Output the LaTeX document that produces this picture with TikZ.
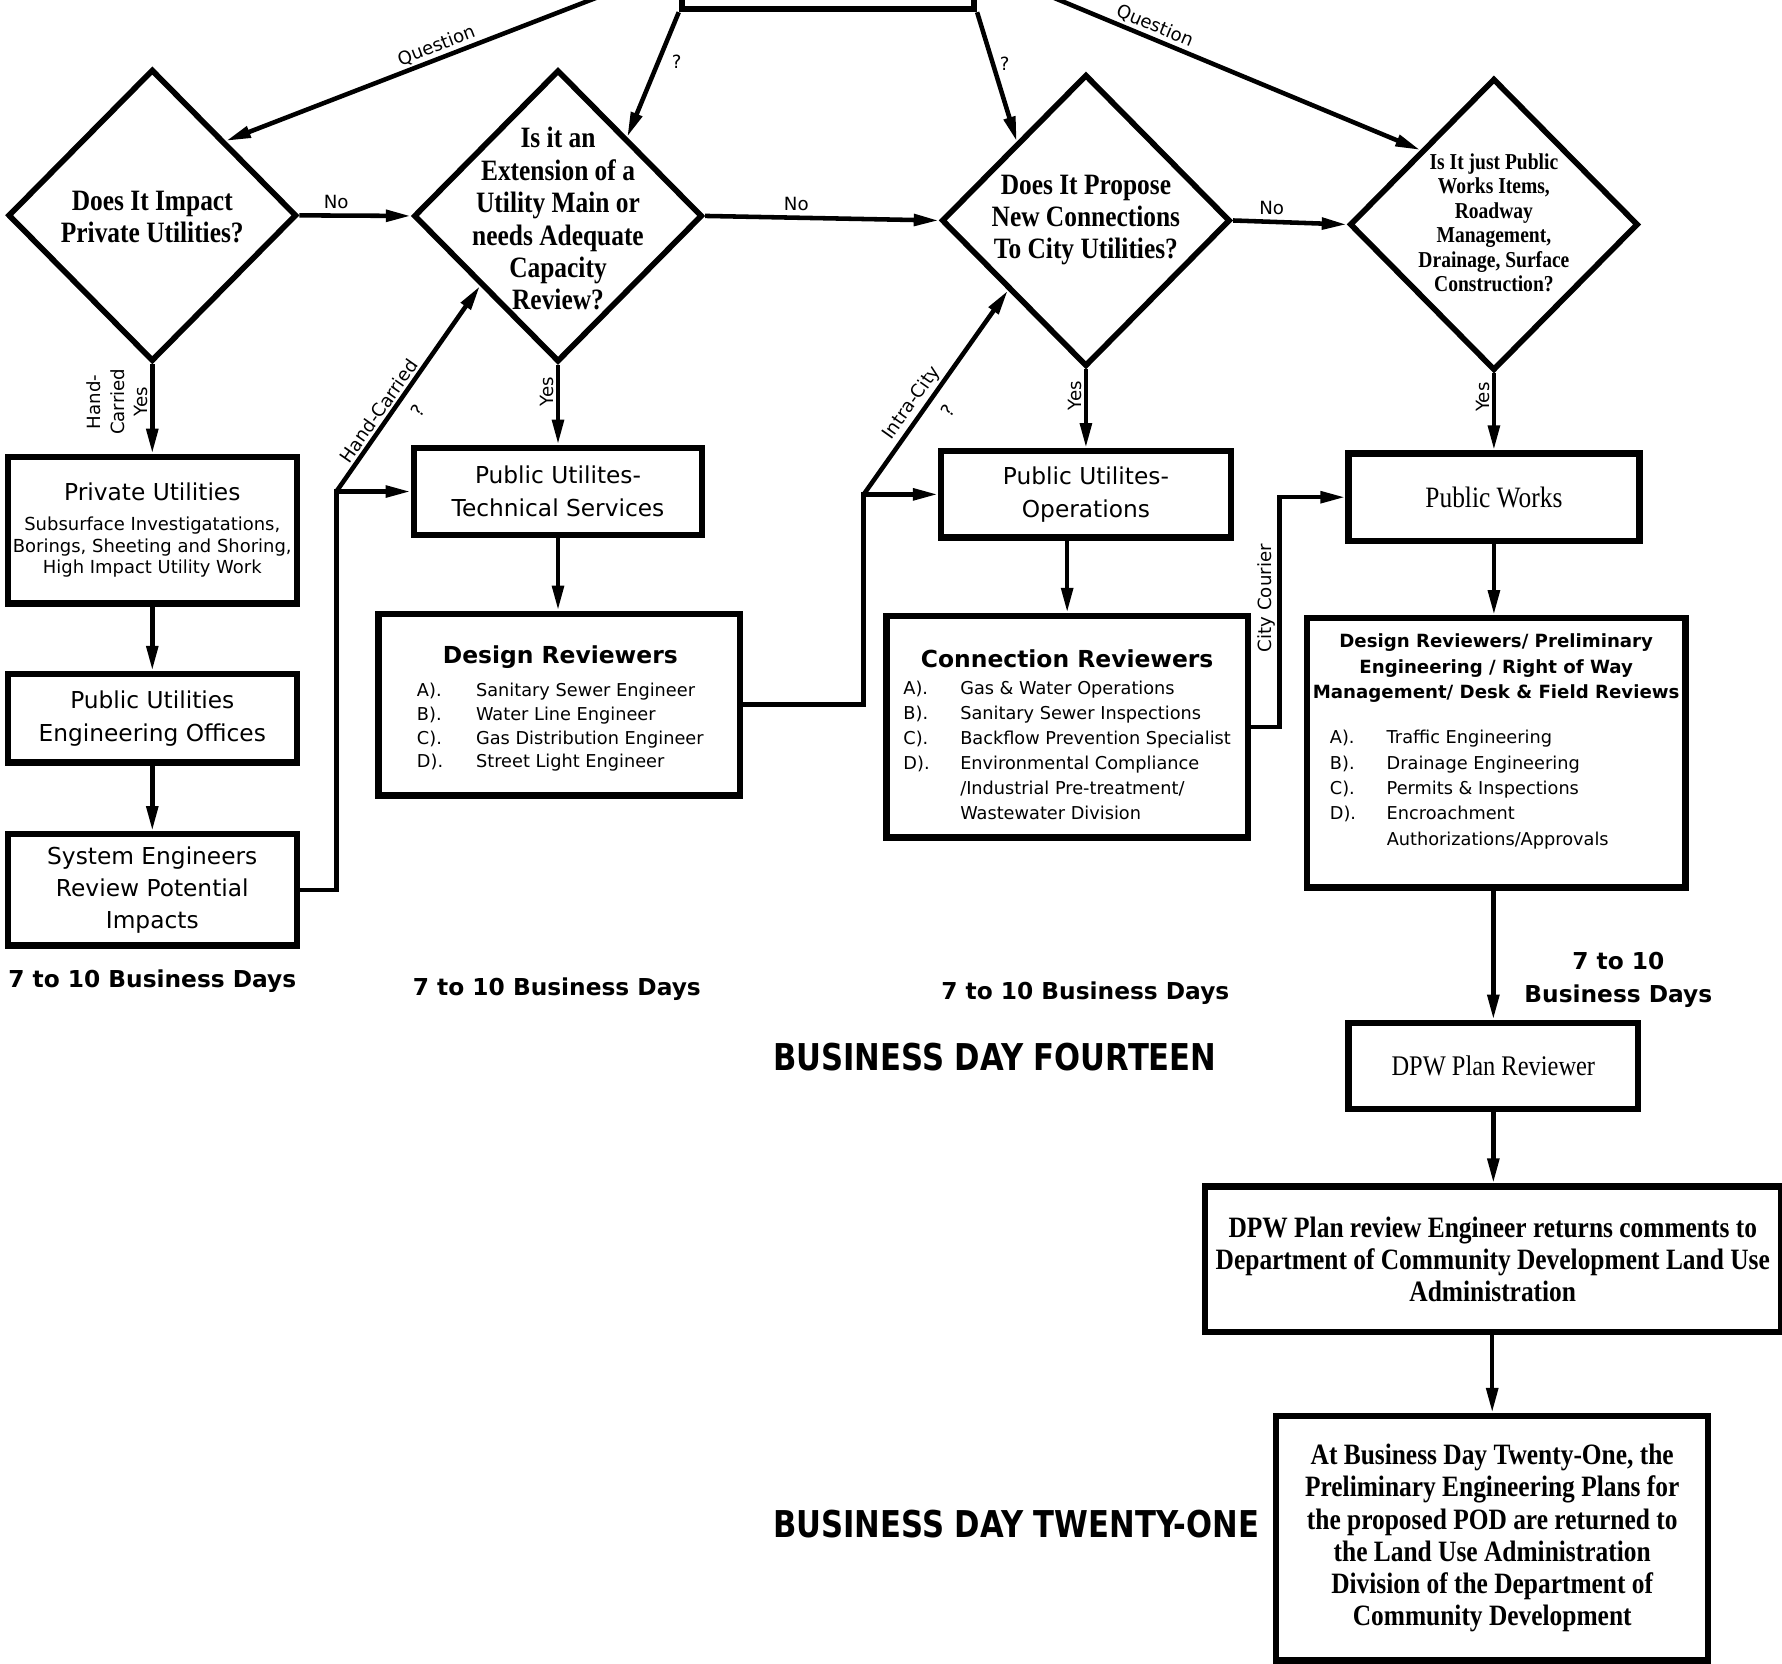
\documentclass[tikz,border=0pt]{standalone}
\usepackage{fontspec}
\setmainfont{DejaVu Sans}
\newfontfamily\serf[FakeStretch=0.86]{Liberation Serif}
\newfontfamily\hdf[FakeStretch=0.83]{DejaVu Sans}
\usetikzlibrary{shapes.geometric,arrows.meta,calc}
\begin{document}
\begin{tikzpicture}[x=1pt,y=-1pt,
  box/.style={draw,line width=5.5pt,inner sep=0pt,align=center},
  dia/.style={draw,diamond,line width=5pt,inner sep=0pt,minimum width=254pt,minimum height=257pt},
  dtext/.style={align=center,inner sep=0pt,font=\serf\bfseries\fontsize{26}{28.5}\selectfont},
  arr/.style={line width=4pt,-{Triangle[length=22pt,width=10pt]}},
  lbl/.style={font=\fontsize{16}{18}\selectfont,inner sep=2pt},
  sanst/.style={font=\fontsize{20.5}{29}\selectfont},
  days/.style={font=\bfseries\fontsize{20.5}{29}\selectfont,align=center,inner sep=0pt},
  bigday/.style={font=\hdf\bfseries\fontsize{32.5}{35}\selectfont,inner sep=0pt,anchor=west}
]
\fill[white] (0,0) rectangle (1568,1464);
\useasboundingbox (0,0) rectangle (1568,1464);

% top box (mostly off the page)
\node[box,minimum width=257pt,minimum height=76pt] (top) at (728.5,-30) {};

% diamonds
\node[dia] (d1) at (134,189.5) {};
\node[dtext] (d1t) at (134,191) {Does It Impact\\Private Utilities?};
\node[dia] (d2) at (491,190) {};
\node[dtext] (d2t) at (491,192.5) {Is it an\\Extension of a\\Utility Main or\\needs Adequate\\Capacity\\Review?};
\node[dia] (d3) at (955.5,194) {};
\node[dtext] (d3t) at (955.5,193.5) {Does It Propose\\New Connections\\To City Utilities?};
\node[dia] (d4) at (1314.5,197.5) {};
\node[dtext,font=\serf\bfseries\fontsize{20}{21.5}\selectfont] (d4t) at (1314.5,196) {Is It just Public\\Works Items,\\Roadway\\Management,\\Drainage, Surface\\Construction?};

% left column
\node[box,minimum width=254pt,minimum height=129pt,font=\fontsize{15.8}{19}\selectfont] (pu) at (134,466.5)
  {{\fontsize{20.5}{24}\selectfont Private Utilities}\\[7.5pt]Subsurface Investigatations,\\Borings, Sheeting and Shoring,\\High Impact Utility Work};
\node[box,sanst,minimum width=254pt,minimum height=78pt] (pueo) at (134,632) {Public Utilities\\Engineering Offices};
\node[box,minimum width=254pt,minimum height=98pt,font=\fontsize{20.5}{28}\selectfont] (se) at (134,783) {System Engineers\\Review Potential\\Impacts};

% second column
\node[box,sanst,minimum width=254pt,minimum height=77pt] (puts) at (491,432.5) {Public Utilites-\\Technical Services};
\node[box,minimum width=318pt,minimum height=160pt] (dr) at (492,620) {};
\node[inner sep=0pt,font=\fontsize{15.6}{20.7}\selectfont] (drt) at (493,625)
  {\begin{tabular}{@{}p{52pt}@{}l@{}}
   \multicolumn{2}{c}{\fontsize{20.6}{24}\selectfont\bfseries Design Reviewers}\\[8.5pt]
   A). & Sanitary Sewer Engineer\\
   B). & Water Line Engineer\\
   C). & Gas Distribution Engineer\\
   D). & Street Light Engineer
   \end{tabular}};

% third column
\node[box,sanst,minimum width=255pt,minimum height=76pt] (puo) at (955.5,435) {Public Utilites-\\Operations};
\node[box,minimum width=318pt,minimum height=195pt] (cr) at (939,639.5) {};
\node[inner sep=0pt,font=\fontsize{15.6}{22}\selectfont] (crt) at (939,649.7)
  {\begin{tabular}{@{}p{50pt}@{}l@{}}
   \multicolumn{2}{c}{\fontsize{20.6}{24}\selectfont\bfseries Connection Reviewers}\\[1.1pt]
   A). & Gas \& Water Operations\\
   B). & Sanitary Sewer Inspections\\
   C). & Backflow Prevention Specialist\\
   D). & Environmental Compliance\\
       & /Industrial Pre-treatment/\\
       & Wastewater Division
   \end{tabular}};

% fourth column
\node[box,minimum width=256pt,minimum height=77pt,font=\serf\fontsize{26}{28}\selectfont] (pw) at (1314.5,437.5) {Public Works};
\node[box,minimum width=333pt,minimum height=237pt] (dr2) at (1316.5,662.5) {};
\node[inner sep=0pt,align=center,font=\bfseries\fontsize{16}{22.5}\selectfont] (dr2t) at (1316.5,588)
  {Design Reviewers/ Preliminary\\Engineering / Right of Way\\Management/ Desk \& Field Reviews};
\node[anchor=west,inner sep=0pt,font=\fontsize{15.6}{22.3}\selectfont] (dr2l) at (1170,694.7)
  {\begin{tabular}{@{}p{50pt}@{}l@{}}
   A). & Traffic Engineering\\
   B). & Drainage Engineering\\
   C). & Permits \& Inspections\\
   D). & Encroachment\\
       & Authorizations/Approvals
   \end{tabular}};
\node[box,minimum width=255pt,minimum height=76pt,font=\serf\fontsize{25}{28}\selectfont] (dpw) at (1314,938) {DPW Plan Reviewer};
\node[box,minimum width=507pt,minimum height=128pt,font=\serf\bfseries\fontsize{26}{28}\selectfont] (eng) at (1313.5,1108)
  {DPW Plan review Engineer returns comments to\\Department of Community Development Land Use\\Administration};
\node[box,minimum width=380pt,minimum height=215pt,font=\serf\bfseries\fontsize{26}{28.4}\selectfont] (fin) at (1313,1353.5)
  {At Business Day Twenty-One, the\\Preliminary Engineering Plans for\\the proposed POD are returned to\\the Land Use Administration\\Division of the Department of\\Community Development};

% free texts
\node[days] (days1) at (134,863) {7 to 10 Business Days};
\node[days] (days2) at (490,870) {7 to 10 Business Days};
\node[days] (days3) at (955,874) {7 to 10 Business Days};
\node[days] (days4) at (1424,862.5) {7 to 10\\Business Days};
\node[bigday] (bd14) at (680,930) {BUSINESS DAY FOURTEEN};
\node[bigday] (bd21) at (680,1341) {BUSINESS DAY TWENTY-ONE};

% connectors from the top box
\draw[arr] (top.west) -- node[lbl,pos=0.525,above,sloped]{Question} ($(d1.north)!0.5!(d1.east)$);
\draw[arr] (top.south west) -- node[lbl,pos=0.4,right=8pt]{?} ($(d2.north)!0.47!(d2.east)$);
\draw[arr] (top.south east) -- node[lbl,pos=0.4,right=2pt]{?} ($(d3.north)!0.47!(d3.west)$);
\draw[arr] (top.east) -- node[lbl,pos=0.39,above,sloped]{Question} ($(d4.north)!0.5!(d4.west)$);

% No connectors
\draw[arr] (d1.east) -- node[lbl,pos=0.33,above=2pt]{No} (d2.west);
\draw[arr] (d2.east) -- node[lbl,pos=0.39,above=2pt]{No} (d3.west);
\draw[arr] (d3.east) -- node[lbl,pos=0.34,above=2pt]{No} (d4.west);

% Yes connectors
\draw[arr] (d1.south) -- node[lbl,pos=0.42,anchor=south,rotate=90,align=center,font=\fontsize{16}{20.5}\selectfont]{Hand-\\Carried\\Yes} (d1.south |- pu.north);
\draw[arr] (d2.south) -- node[lbl,pos=0.34,anchor=south,rotate=90]{Yes} (d2.south |- puts.north);
\draw[arr] (d3.south) -- node[lbl,pos=0.33,anchor=south,rotate=90]{Yes} (d3.south |- puo.north);
\draw[arr] (d4.south) -- node[lbl,pos=0.31,anchor=south,rotate=90]{Yes} (d4.south |- pw.north);

% left column chain
\draw[arr] (pu.south) -- (pueo.north);
\draw[arr] (pueo.south) -- (se.north);
\coordinate (hc) at (296,432.5);
\draw[arr] (se.east) -| (hc) -- (puts.west);
\draw[arr] (hc) -- node[lbl,pos=0.36,above,sloped]{Hand-Carried} node[lbl,pos=0.45,below=8pt,sloped]{?} ($(d2.west)!0.47!(d2.south)$);

% second column chain
\draw[arr] (puts.south) -- (puts.south |- dr.north);
\coordinate (ic) at (760,435);
\draw[arr] (dr.east) -| (ic) -- (puo.west);
\draw[arr] (ic) -- node[lbl,pos=0.41,above,sloped]{Intra-City} node[lbl,pos=0.47,below=8pt,sloped]{?} ($(d3.west)!0.47!(d3.south)$);

% third column chain
\draw[arr] (puo.south -| cr.north) -- (cr.north);
\coordinate (cc) at (1126,437.5);
\coordinate (cc1) at (cc |- cr.east);
\draw[arr] (cr.east) -- (cc1) -- node[lbl,pos=0.56,anchor=south,rotate=90]{City Courier} (cc) -- (pw.west);

% fourth column chain
\draw[arr] (pw.south) -- (pw.south |- dr2.north);
\draw[arr] (dr2.south -| dpw.north) -- (dpw.north);
\draw[arr] (dpw.south) -- (dpw.south |- eng.north);
\draw[arr] (eng.south -| fin.north) -- (fin.north);
\end{tikzpicture}
\end{document}
